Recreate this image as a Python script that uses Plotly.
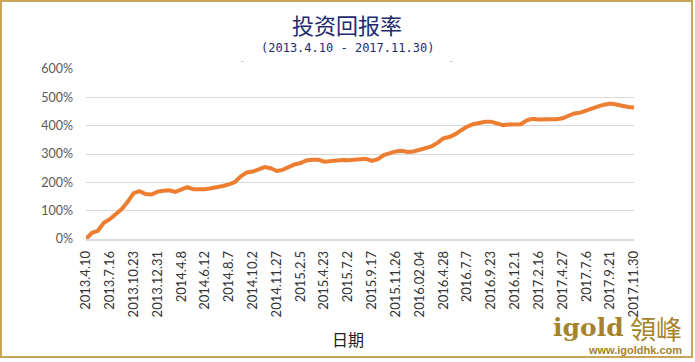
import plotly.graph_objects as go

# ---- data ----
tick_labels = ["2013.4.10", "2013.7.16", "2013.10.23", "2013.12.31", "2014.4.8", "2014.6.12",
               "2014.8.7", "2014.10.2", "2014.11.27", "2015.2.5", "2015.4.23", "2015.7.2",
               "2015.9.17", "2015.11.26", "2016.02.04", "2016.4.28", "2016.7.7", "2016.9.23",
               "2016.12.1", "2017.2.16", "2017.4.27", "2017.7.6", "2017.9.21", "2017.11.30"]
points_per_label = 4
returns_pct = [0, 22, 29, 57, 70, 86, 106, 131, 162, 169, 159, 157, 167, 170, 172, 166,
               176, 183, 176, 175, 176, 179, 182, 187, 193, 201, 221, 235, 238, 245, 254, 250,
               240, 244, 254, 263, 268, 277, 280, 280, 273, 276, 279, 279, 278, 279, 280, 283,
               276, 282, 296, 302, 309, 311, 307, 309, 315, 319, 327, 339, 355, 360, 370, 384,
               397, 405, 410, 414, 414, 407, 402, 404, 403, 405, 419, 424, 422, 421, 423, 423,
               426, 435, 443, 446, 454, 461, 468, 474, 478, 475, 469, 466, 464]
y_ticks = [0, 100, 200, 300, 400, 500, 600]
y_tick_text = [f"{v}%" for v in y_ticks]

W, H = 695, 362
L, R, T, B = 86, 61, 69, 123
PW, PH = W - L - R, H - T - B

def px(x):
    return (x - L) / PW

def py(y):
    return (H - B - y) / PH

x_idx = list(range(len(returns_pct)))
tickvals = list(range(0, len(returns_pct), points_per_label))

fig = go.Figure()
fig.add_trace(go.Scatter(
    x=x_idx, y=returns_pct, mode="lines",
    line=dict(color="#ed7d31", width=4), hoverinfo="skip", showlegend=False))

fig.update_layout(
    width=W, height=H, margin=dict(l=L, r=R, t=T, b=B),
    paper_bgcolor="white", plot_bgcolor="white",
    xaxis=dict(range=[0, len(returns_pct) - 1], tickvals=tickvals,
               ticktext=tick_labels[:len(tickvals)], tickangle=-90,
               showgrid=False, zeroline=False, showline=True,
               linecolor="#d9d9d9", linewidth=1.5, ticks="",
               tickfont=dict(family="Lato", size=13, color="#333333"),
               ticklabelstandoff=5),
    yaxis=dict(range=[0, 600], tickvals=y_ticks, ticktext=y_tick_text,
               showgrid=True, gridcolor="#d9d9d9", gridwidth=1,
               zeroline=False, ticks="",
               tickfont=dict(family="Lato", size=12.5, color="#595959"),
               ticklabelstandoff=12),
)

ann = [
    dict(text="投资回报率", x=px(347), y=py(23.5), font=dict(family="Noto Sans CJK SC", size=22, color="#1f2a6e")),
    dict(text="(2013.4.10 - 2017.11.30)", x=px(347), y=py(48), font=dict(family="DejaVu Sans Mono", size=12, color="#1f2a6e")),
    dict(text="日期", x=px(348), y=py(339), font=dict(family="Noto Sans CJK SC", size=16, color="#222222")),
    dict(text="<b>igold</b>", x=px(588), y=py(327), font=dict(family="DejaVu Serif", size=25, color="#a6832b")),
    dict(text="領峰", x=px(656), y=py(327), font=dict(family="Noto Sans CJK TC", size=26, color="#a6832b")),
    dict(text="<b>www.igoldhk.com</b>", x=px(635), y=py(350), font=dict(family="Liberation Sans", size=11, color="#a6832b")),
    dict(text="-", x=px(242), y=py(61), font=dict(family="Liberation Sans", size=8, color="#888888")),
    dict(text="-", x=px(451), y=py(61), font=dict(family="Liberation Sans", size=8, color="#888888")),
]
for a in ann:
    a.update(xref="paper", yref="paper", showarrow=False, xanchor="center", yanchor="middle")
    fig.add_annotation(**a)

fig.add_shape(type="rect", xref="paper", yref="paper",
              x0=px(1), x1=px(692), y0=py(357), y1=py(1),
              line=dict(color="#c9a55a", width=2), fillcolor="rgba(0,0,0,0)", layer="below")

fig.write_html("out.html", config={"displayModeBar": False},
               post_script="document.body.style.margin='0';")
